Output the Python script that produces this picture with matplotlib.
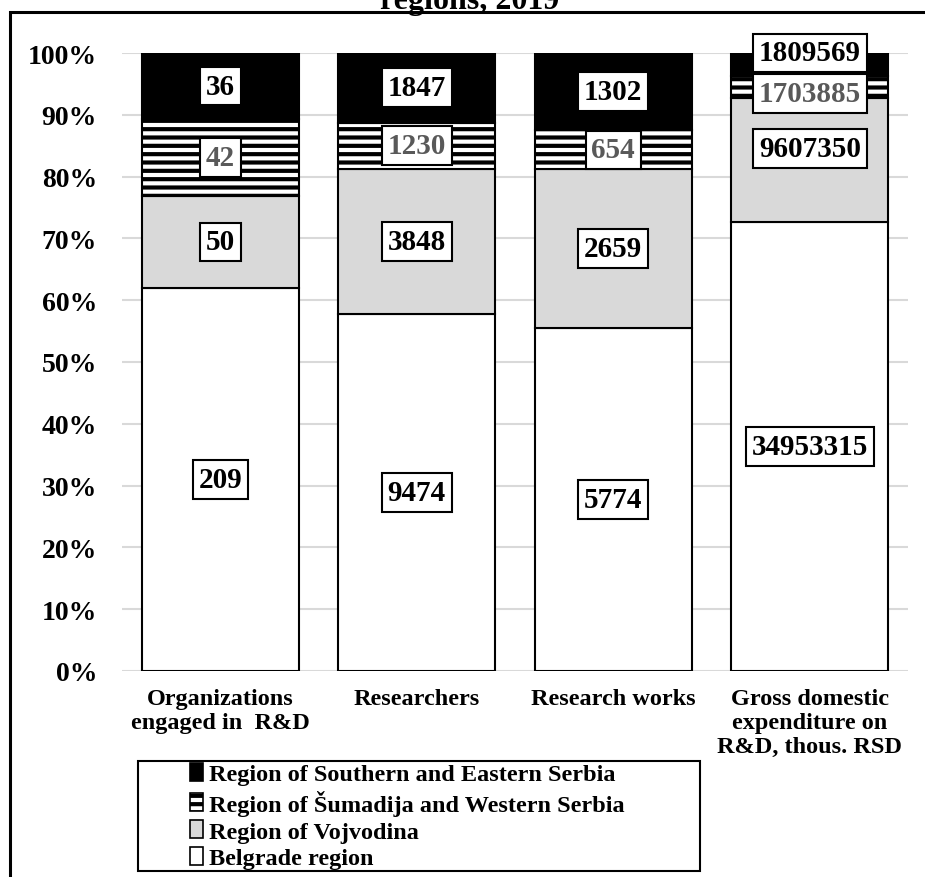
import numpy as np
import matplotlib
matplotlib.use('Agg')
import matplotlib.pyplot as plt
from matplotlib.patches import Patch, Rectangle

# data (counts by region, 2019)
categories=['Organizations\nengaged in  R&D', 'Researchers', 'Research works',
            'Gross domestic\nexpenditure on\nR&D, thous. RSD']
belgrade=[209, 9474, 5774, 34953315]
vojvodina=[50, 3848, 2659, 9607350]
sumadija=[42, 1230, 654, 1703885]
south_east=[36, 1847, 1302, 1809569]
region_names=['Belgrade region', 'Region of Vojvodina',
              'Region of Šumadija and Western Serbia',
              'Region of Southern and Eastern Serbia']
yticks=[0, 10, 20, 30, 40, 50, 60, 70, 80, 90, 100]
title='regions, 2019'

W, H=925, 878

def main():
    plt.rcParams['font.family']=['Liberation Serif', 'DejaVu Serif']
    plt.rcParams['font.weight']='bold'
    plt.rcParams['hatch.linewidth']=3.0

    fig=plt.figure(figsize=(W/100, H/100), dpi=100)
    ax=fig.add_axes([122/W, 206/H, 786/W, 618/H])

    counts=np.array([belgrade, vojvodina, sumadija, south_east], dtype=float)
    shares=counts/counts.sum(axis=0)*100
    x=np.arange(len(categories))

    # fill, hatch, label colour for each region (bottom to top)
    styles=[('white', None, 'black'),
            ('#d9d9d9', None, 'black'),
            ('white', '--', '#595959'),
            ('black', None, 'black')]
    # labels in the last column were moved by hand so they don't overlap
    nudge={(3, 1): 1.9, (3, 2): -1.0, (3, 3): 1.9}

    bottom=np.zeros(len(categories))
    for i in range(len(counts)):
        fc, hatch, tc=styles[i]
        ax.bar(x, shares[i], 0.8, bottom=bottom, color=fc, edgecolor='black',
               linewidth=1.5, hatch=hatch, zorder=2)
        for j in range(len(categories)):
            yc=bottom[j]+shares[i][j]/2+nudge.get((j, i), 0)
            ax.text(x[j], yc, f'{int(counts[i][j])}', ha='center', va='center',
                    fontsize=21, color=tc, zorder=5, clip_on=False,
                    bbox=dict(boxstyle='square,pad=0.2', fc='white', ec='black', lw=1.5))
        bottom+=shares[i]

    ax.set_xlim(-0.5, len(categories)-0.5)
    ax.set_ylim(0, 100)
    ax.set_yticks(yticks)
    ax.set_yticklabels([f'{t}%' for t in yticks], fontsize=20)
    ax.set_xticks(x)
    ax.set_xticklabels(categories, fontsize=17.5)
    ax.tick_params(axis='both', length=0)
    ax.tick_params(axis='y', pad=18)
    ax.tick_params(axis='x', pad=12)
    ax.yaxis.grid(True, color='#d9d9d9', linewidth=1.5, zorder=0)
    ax.set_axisbelow(True)
    for s in ax.spines.values():
        s.set_visible(False)

    # legend, frame drawn separately so it can be wider than the entries
    handles=[Patch(facecolor=styles[i][0], edgecolor='black', hatch=styles[i][1], linewidth=1.2)
             for i in range(3, -1, -1)]
    labels=[region_names[i] for i in range(3, -1, -1)]
    fig.legend(handles, labels, loc='upper left', bbox_to_anchor=(190/W, 1-764/H),
               frameon=False, fontsize=17.5, handlelength=0.55, handleheight=0.75,
               handletextpad=0.25, labelspacing=0.18, borderpad=0, borderaxespad=0)
    fig.add_artist(Rectangle((138/W, 1-872/H), (700-138)/W, 110/H, transform=fig.transFigure,
                             fill=False, edgecolor='black', linewidth=1.5))

    # chart border, cut off at the right and bottom
    fig.add_artist(Rectangle((10/W, -0.1), 1.2, 1-13/H+0.1, transform=fig.transFigure,
                             fill=False, edgecolor='black', linewidth=2.2))

    fig.text(470/W, 1-9/H, title, ha='center', va='baseline', fontsize=23)

    fig.savefig('out.png', dpi=100)

if __name__=='__main__':
    main()
